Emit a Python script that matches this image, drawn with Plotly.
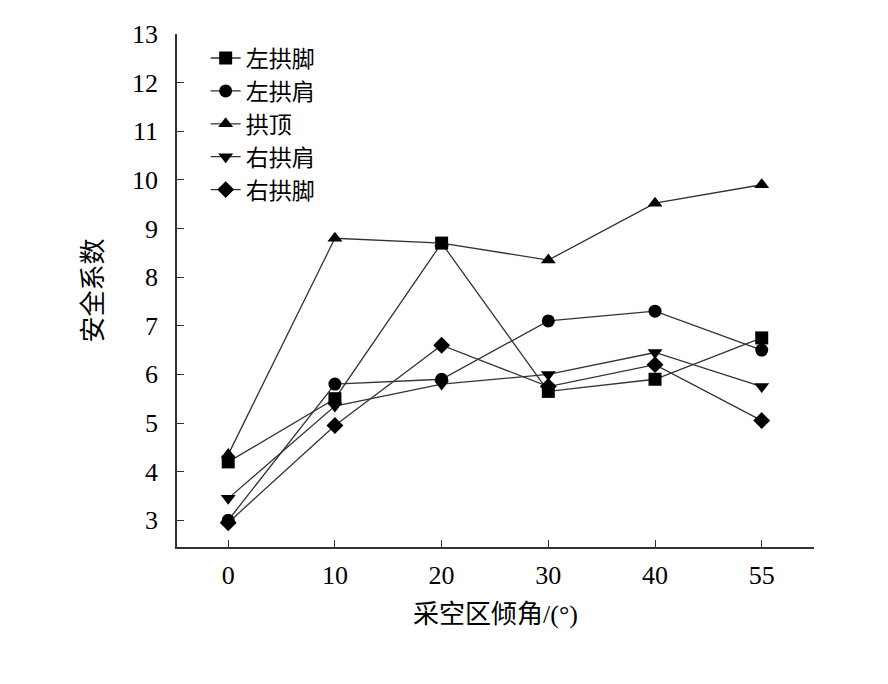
import plotly.graph_objects as go

angles = ["0", "10", "20", "30", "40", "55"]

left_foot = [4.2, 5.5, 8.7, 5.65, 5.9, 6.75]
left_shoulder = [3.0, 5.8, 5.9, 7.1, 7.3, 6.5]
crown = [4.35, 8.8, 8.7, 8.35, 9.52, 9.9]
right_shoulder = [3.45, 5.35, 5.8, 6.0, 6.45, 5.75]
right_foot = [2.95, 4.95, 6.6, 5.75, 6.2, 5.05]

series = [
    ("左拱脚", left_foot, "square"),
    ("左拱肩", left_shoulder, "circle"),
    ("拱顶", crown, "triangle-up"),
    ("右拱肩", right_shoulder, "triangle-down"),
    ("右拱脚", right_foot, "diamond"),
]

font_family = "Liberation Serif, Noto Sans CJK SC"

fig = go.Figure()
for name, vals, sym in series:
    fig.add_trace(go.Scatter(
        x=angles, y=vals, name=name, mode="lines+markers",
        line=dict(color="#333333", width=1.3),
        marker=dict(symbol=sym, size=13, color="black"),
    ))

fig.update_layout(
    width=888, height=684,
    margin=dict(l=169, r=82, t=20, b=145),
    paper_bgcolor="white", plot_bgcolor="white",
    font=dict(family=font_family, size=22, color="black"),
    showlegend=True,
    legend=dict(x=0.045, y=0.995, xanchor="left", yanchor="top",
                bgcolor="rgba(0,0,0,0)", font=dict(size=23),
                tracegroupgap=0),
    xaxis=dict(
        type="category", range=[-0.48, 5.49],
        showline=True, linecolor="#333333", linewidth=1.5,
        ticks="inside", ticklen=7, tickcolor="#333333",
        showgrid=False, zeroline=False,
        tickfont=dict(size=26), ticklabelstandoff=4,
        title=dict(text="采空区倾角/(°)", font=dict(size=26), standoff=16),
    ),
    yaxis=dict(
        range=[2.45, 13], dtick=1,
        showline=True, linecolor="#333333", linewidth=1.5,
        ticks="inside", ticklen=7, tickcolor="#333333",
        showgrid=False, zeroline=False,
        tickfont=dict(size=26), ticklabelstandoff=12,
        title=dict(text="安全系数", font=dict(size=26), standoff=22),
    ),
)

fig.write_html("out.html")
